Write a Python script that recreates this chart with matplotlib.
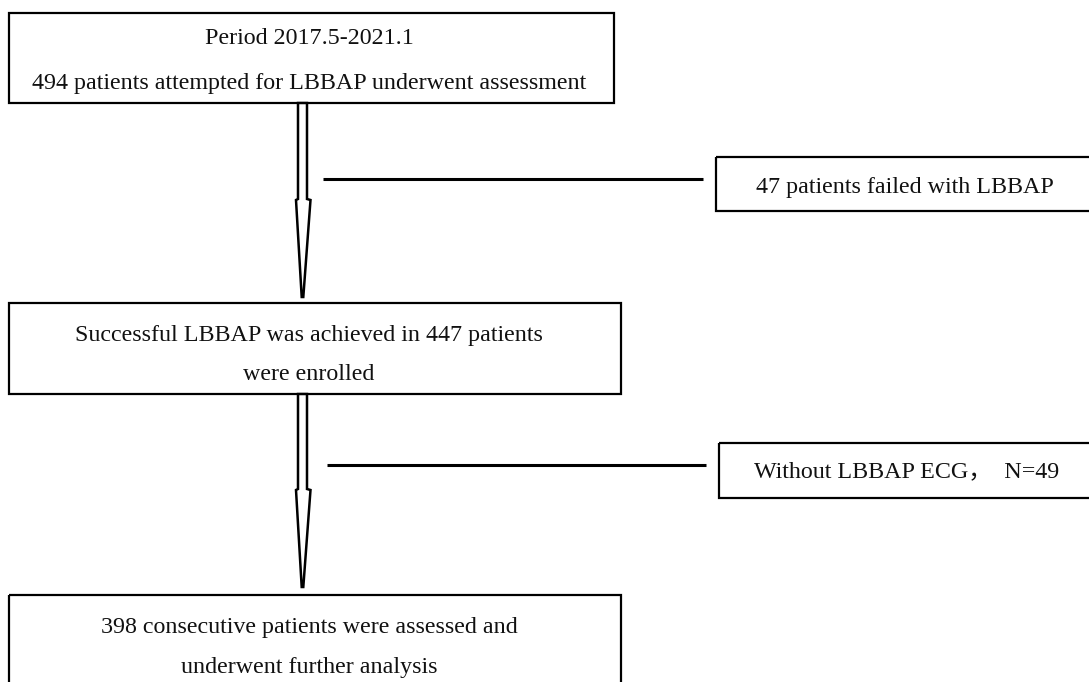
import matplotlib
matplotlib.use("Agg")
import matplotlib.pyplot as plt
from matplotlib.patches import Rectangle, Polygon

# flow texts (one list of lines per box)
main_steps = [
    ["Period 2017.5-2021.1", "494 patients attempted for LBBAP underwent assessment"],
    ["Successful LBBAP was achieved in 447 patients", "were enrolled"],
    ["398 consecutive patients were assessed and", "underwent further analysis"],
]
exclusions = [
    "47 patients failed with LBBAP",
    "Without LBBAP ECG\uff0c  N=49",
]

# layout in pixel units (y down)
W, H = 1089, 682
main_boxes = [(9, 13, 614, 103), (9, 303, 621, 394), (9, 595, 621, 700)]
main_line_y = [(38, 83), (335, 375), (627, 667)]
side_boxes = [(716, 157, 1100, 211), (719, 443, 1100, 498)]
side_text_x = [905, 907]
side_text_dy = [3, 1]
side_lines = [(323, 703, 179), (327, 706, 465)]
arrows = [(302.5, 103, 200, 297), (302.5, 394, 490, 587)]

plt.rcParams["font.family"] = ["Liberation Serif", "Noto Sans CJK SC"]

fig = plt.figure(figsize=(W / 100, H / 100), dpi=100)
ax = fig.add_axes([0, 0, 1, 1])
ax.set_xlim(0, W)
ax.set_ylim(H, 0)
ax.axis("off")

lw = 1.6
fs = 17.3
for (x0, y0, x1, y1), lines, ys in zip(main_boxes, main_steps, main_line_y):
    ax.add_patch(Rectangle((x0, y0), x1 - x0, y1 - y0, fill=False, lw=lw, ec="black"))
    for txt, ty in zip(lines, ys):
        ax.text(309, ty, txt, ha="center", va="center", fontsize=fs, color="#111111")

for (x0, y0, x1, y1), txt, tx, dy in zip(side_boxes, exclusions, side_text_x, side_text_dy):
    ax.add_patch(Rectangle((x0, y0), x1 - x0, y1 - y0, fill=False, lw=lw, ec="black"))
    ax.text(tx, (y0 + y1) / 2 + dy, txt, ha="center", va="center",
            fontsize=fs, color="#111111")

for x0, x1, y in side_lines:
    ax.plot([x0, x1], [y, y], color="black", lw=2.2, solid_capstyle="butt")

for cx, top, neck, tip in arrows:
    pts = [(cx - 4.5, top), (cx + 4.5, top), (cx + 4.5, neck - 1),
           (cx + 8, neck), (cx + 0.8, tip), (cx - 0.8, tip),
           (cx - 6.5, neck), (cx - 4.5, neck - 1)]
    ax.add_patch(Polygon(pts, closed=True, fc="white", ec="black", lw=1.8))

fig.savefig("out.png", dpi=100)
